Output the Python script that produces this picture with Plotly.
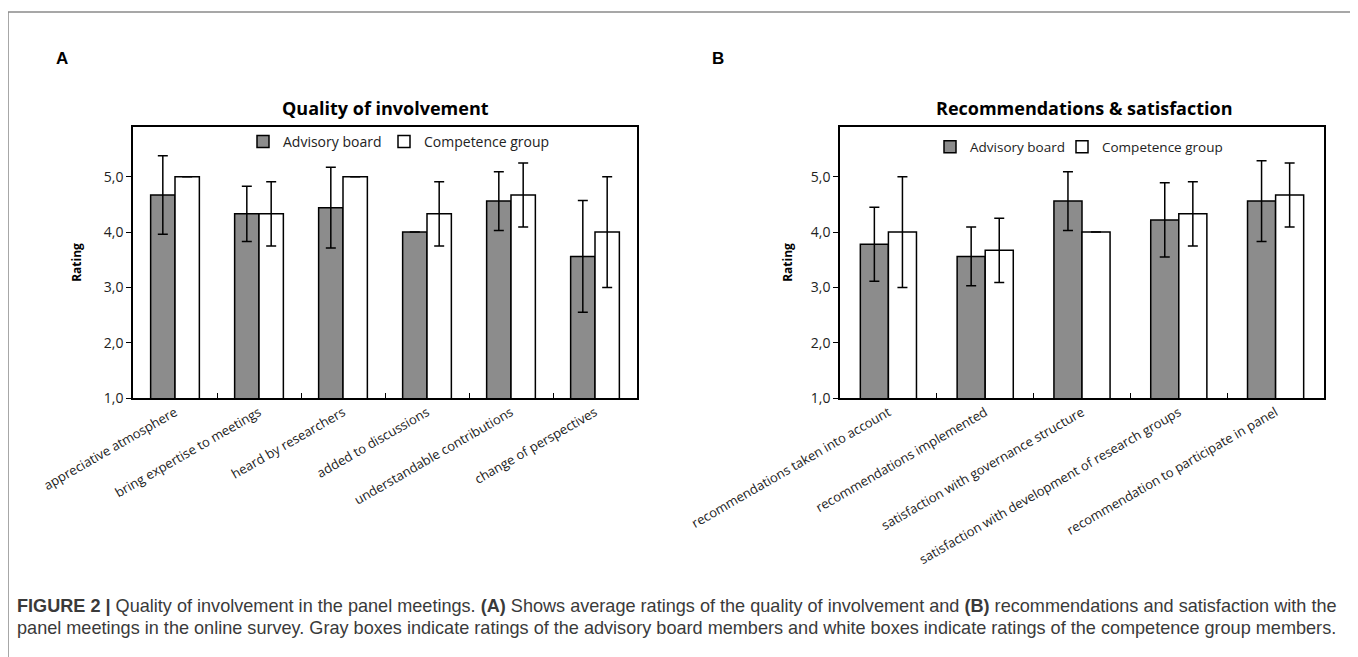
import plotly.graph_objects as go

W, H = 1358, 657
OFF = 8  # page body margin

cats_a = ["appreciative atmosphere", "bring expertise to meetings", "heard by researchers",
          "added to discussions", "understandable contributions", "change of perspectives"]
ab_a = [4.67, 4.33, 4.44, 4.00, 4.56, 3.56]
ab_a_err = [0.71, 0.50, 0.73, None, 0.53, 1.01]
cg_a = [5.00, 4.33, 5.00, 4.33, 4.67, 4.00]
cg_a_err = [None, 0.58, None, 0.58, 0.58, 1.00]

cats_b = ["recommendations taken into account", "recommendations implemented",
          "satisfaction with governance structure", "satisfaction with development of research groups",
          "recommendation to participate in panel"]
ab_b = [3.78, 3.56, 4.56, 4.22, 4.56]
ab_b_err = [0.67, 0.53, 0.53, 0.67, 0.73]
cg_b = [4.00, 3.67, 4.00, 4.33, 4.67]
cg_b_err = [1.00, 0.58, None, 0.58, 0.58]

y_ticks = [1, 2, 3, 4, 5]
y_ticktext = ["1,0", "2,0", "3,0", "4,0", "5,0"]
series_names = ["Advisory board", "Competence group"]

FONT = "Open Sans"
GRAY = "#8c8c8c"

fig = go.Figure()

def add_pair(cats, ab, ab_err, cg, cg_err, xa, ya, legends):
    for name, vals, errs, color, lg in [(series_names[0], ab, ab_err, GRAY, legends[0]),
                                        (series_names[1], cg, cg_err, "white", legends[1])]:
        fig.add_trace(go.Bar(
            x=cats, y=vals, name=name, xaxis=xa, yaxis=ya, legend=lg,
            marker=dict(color=color, line=dict(color="black", width=1.5)),
            error_y=dict(type="data", array=errs, visible=True, color="black",
                         thickness=1.5, width=5),
            showlegend=True,
        ))

add_pair(cats_a, ab_a, ab_a_err, cg_a, cg_a_err, "x", "y", ("legend", "legend3"))
add_pair(cats_b, ab_b, ab_b_err, cg_b, cg_b_err, "x2", "y2", ("legend2", "legend4"))

def px_x(v):
    return (v - OFF) / W

def px_y(v):
    return 1 - (v - OFF) / H

common_x = dict(type="category", showline=True, linecolor="black", linewidth=2, mirror=True,
                ticks="inside", tickson="boundaries", ticklen=5, tickcolor="black",
                tickangle=-30, tickfont=dict(family=FONT, size=13, color="#222"),
                showgrid=False, zeroline=False, automargin=False)

def y_axis(standoff):
    return dict(range=[1, 5.9], tickvals=y_ticks, ticktext=y_ticktext, showline=True,
                linecolor="black", linewidth=1.5, mirror=True, ticks="outside", ticklen=5,
                tickcolor="black", tickfont=dict(family=FONT, size=14, color="#222"),
                showgrid=False, zeroline=False, automargin=False,
                title=dict(text="<b>Rating</b>", font=dict(family=FONT, size=12, color="black"),
                           standoff=standoff))

def leg(xpx, ypx, size):
    return dict(orientation="h", x=px_x(xpx), y=px_y(ypx), xanchor="left", yanchor="middle",
                font=dict(family=FONT, size=size, color="#222"), itemwidth=30,
                bgcolor="rgba(0,0,0,0)", tracegroupgap=0)

yd = [px_y(398), px_y(127)]
fig.update_layout(
    width=W, height=H, margin=dict(l=0, r=0, t=0, b=0, autoexpand=False),
    paper_bgcolor="white", plot_bgcolor="white",
    barmode="group", bargap=0.42, bargroupgap=0,
    font=dict(family=FONT, color="black"),
    xaxis=dict(domain=[px_x(133), px_x(637)], anchor="y", **common_x),
    yaxis=dict(domain=yd, anchor="x", **y_axis(20)),
    xaxis2=dict(domain=[px_x(840), px_x(1324)], anchor="y2", **common_x),
    yaxis2=dict(domain=yd, anchor="x2", **y_axis(16)),
    legend=leg(243, 142, 14),
    legend3=leg(384, 142, 14),
    legend2=leg(930, 147, 13.5),
    legend4=leg(1062, 147, 13.5),
    showlegend=True,
)

for text, xpx in [("<b>Quality of involvement</b>", 385), ("<b>Recommendations &amp; satisfaction</b>", 1084)]:
    fig.add_annotation(text=text, x=px_x(xpx), y=px_y(108), xref="paper", yref="paper",
                       xanchor="center", yanchor="middle", showarrow=False,
                       font=dict(family=FONT, size=18, color="black"))

for lab, xpx in [("A", 62), ("B", 718)]:
    fig.add_annotation(text=f"<b>{lab}</b>", x=px_x(xpx), y=px_y(58), xref="paper", yref="paper",
                       xanchor="center", yanchor="middle", showarrow=False,
                       font=dict(family="Liberation Sans", size=17, color="black"))

cap1 = ("<b>FIGURE 2 |</b> Quality of involvement in the panel meetings. <b>(A)</b> Shows average ratings "
        "of the quality of involvement and <b>(B)</b> recommendations and satisfaction with the")
cap2 = ("panel meetings in the online survey. Gray boxes indicate ratings of the advisory board members "
        "and white boxes indicate ratings of the competence group members.")
for txt, ypx in [(cap1, 606), (cap2, 628)]:
    fig.add_annotation(text=txt, x=px_x(15), y=px_y(ypx), xref="paper", yref="paper",
                       xanchor="left", yanchor="middle", showarrow=False,
                       font=dict(family="Liberation Sans", size=18.1, color="#3a3a3a"))

fig.add_shape(type="rect", xref="paper", yref="paper", x0=px_x(8), x1=px_x(1352),
              y0=-0.2, y1=px_y(12), line=dict(color="#8a8a8a", width=1.5), layer="below")

fig.write_html("out.html")
